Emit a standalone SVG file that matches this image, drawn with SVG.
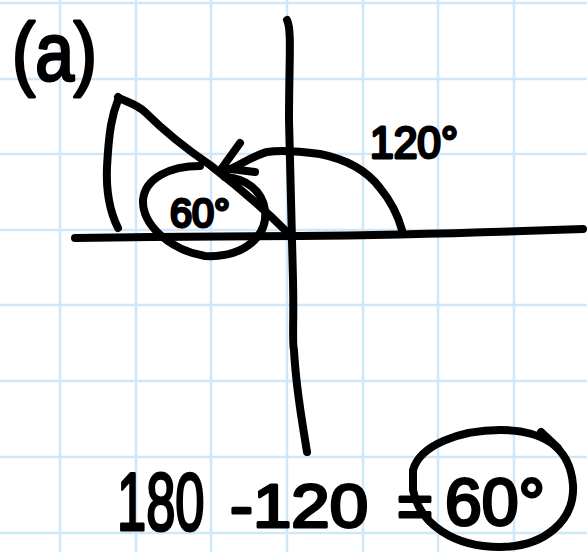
<svg xmlns="http://www.w3.org/2000/svg" width="587" height="552" viewBox="0 0 587 552">
<style>
.grid{stroke:#cfe8f9;stroke-width:2.5;fill:none}
.ink{stroke:#000;stroke-width:8;fill:none;stroke-linecap:round;stroke-linejoin:round}
.hw{font-family:"Liberation Sans","DejaVu Sans",sans-serif;font-weight:normal;fill:#000;stroke:#000;stroke-width:3;stroke-linejoin:round}
</style>
<rect width="587" height="552" fill="#fff"/>
<g id="grid" class="grid">
<path d="M60 0V552M136 0V552M211 0V552M287 0V552M363 0V552M438 0V552M514 0V552"/>
<path d="M0 3H587M0 79H587M0 154H587M0 230H587M0 305H587M0 381H587M0 457H587M0 533H587"/>
</g>
<g id="axes" class="ink">
<path d="M75 238 C150 237 230 236 300 236 C400 235 500 232 583 229"/>
<path d="M287 20 C292 30 289 60 289 120 C290 180 292 230 293 280 C294 320 292 345 294 350 C296 390 302 420 307 452"/>
</g>
<g id="angle60" class="ink">
<path d="M118 97 C125 102 135 103 145 112 C165 132 185 148 210 165 C240 188 265 210 290 235"/>
<path d="M118 100 C112 115 109 130 107 167 C106 190 109 210 118 228"/>
<path d="M200 166 C170 166 145 178 143 200 C142 225 170 250 205 256 C245 258 268 235 265 210 C262 190 245 178 225 177"/>
</g>
<g id="angle120" class="ink">
<path d="M402 230 C397 212 390 200 380 188 C368 172 350 160 320 154 C305 152 280 150 267 152 C255 155 240 165 224 172"/>
<path d="M240 143 L222 168 L255 172"/>
<path d="M413 470 C420 445 460 430 500 430 C540 430 570 445 573 485 C575 520 545 547 500 547 C455 547 420 525 413 490 Z" />
<path d="M541 432 L558 448"/>
</g>
<g id="labels">
<text class="hw" x="12" y="80" font-size="82" textLength="85" lengthAdjust="spacingAndGlyphs">(a)</text>
<text class="hw" x="370" y="158" font-size="44" textLength="88" lengthAdjust="spacingAndGlyphs">120°</text>
<text class="hw" x="170" y="227" font-size="40" textLength="60" lengthAdjust="spacingAndGlyphs">60°</text>
<text class="hw" transform="translate(117 530) scale(0.64 1)" x="0" y="0" font-size="82">180</text>
<text class="hw" x="230" y="527" font-size="62" textLength="138" lengthAdjust="spacingAndGlyphs">-120</text>
<text class="hw" x="397" y="527" font-size="62" textLength="36" lengthAdjust="spacingAndGlyphs">=</text>
<text class="hw" x="445" y="525" font-size="66" textLength="100" lengthAdjust="spacingAndGlyphs">60°</text>
</g>
</svg>
